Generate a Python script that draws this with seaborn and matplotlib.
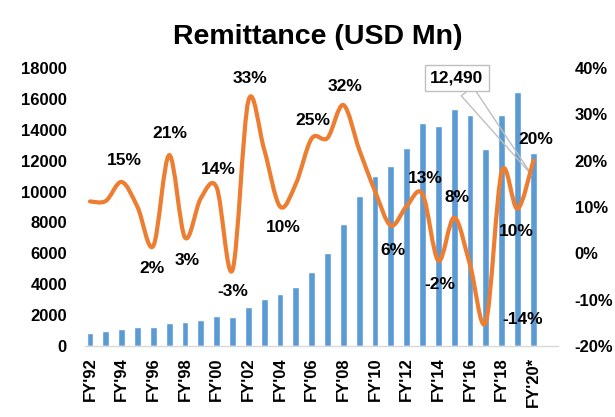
import matplotlib
matplotlib.use("Agg")
import matplotlib.pyplot as plt
from matplotlib.path import Path
from matplotlib.patches import PathPatch
import pandas as pd
import seaborn as sns

YEARS = [
    "FY'92", "FY'93", "FY'94", "FY'95", "FY'96", "FY'97", "FY'98", "FY'99",
    "FY'00", "FY'01", "FY'02", "FY'03", "FY'04", "FY'05", "FY'06", "FY'07",
    "FY'08", "FY'09", "FY'10", "FY'11", "FY'12", "FY'13", "FY'14", "FY'15",
    "FY'16", "FY'17", "FY'18", "FY'19", "FY'20*",
]
REMITTANCE = [
    848, 944, 1089, 1198, 1217, 1475, 1525, 1706, 1949, 1882, 2501, 3062,
    3372, 3848, 4802, 5998, 7915, 9689, 10987, 11650, 12843, 14461, 14228,
    15317, 14931, 12769, 14982, 16420, 12490,
]
GROWTH = [
    11.2, 11.3, 15.4, 10.0, 1.6, 21.2, 3.4, 11.9, 14.2, -3.6, 32.9, 22.4,
    10.1, 15.0, 24.8, 24.9, 32.0, 22.4, 13.4, 6.0, 10.2, 12.8, -1.6, 7.7,
    -2.5, -14.8, 17.6, 9.6, 20.0,
]
# (year index, label text, x offset px, y offset px; negative y = above)
GROWTH_LABELS = [
    (2, "15%", 3, -21), (4, "2%", -1, 23), (5, "21%", 1, -22), (6, "3%", 2, 23),
    (8, "14%", 2, -18), (9, "-3%", 0, 22), (10, "33%", 2, -22), (12, "10%", 3, 21),
    (14, "25%", 1, -18), (16, "32%", 2, -19), (19, "6%", 2, 25), (21, "13%", 3, -16),
    (22, "-2%", 2, 24), (23, "8%", 3, -20), (25, "-14%", 37, -2), (27, "10%", -1, 23),
    (28, "20%", 2, -21),
]
CALLOUT_TEXT = "12,490"

BAR_COLOR = "#5B9BD5"
LINE_COLOR = "#ED7D31"


def smooth_path(xs, ys):
    # Excel-like smoothed line: cubic bezier through each point
    n = len(xs)
    verts = [(xs[0], ys[0])]
    codes = [Path.MOVETO]
    for i in range(n - 1):
        a = i - 1 if i > 0 else i
        d = i + 2 if i + 2 < n else i + 1
        c1 = (xs[i] + (xs[i + 1] - xs[a]) / 6, ys[i] + (ys[i + 1] - ys[a]) / 6)
        c2 = (xs[i + 1] - (xs[d] - xs[i]) / 6, ys[i + 1] - (ys[d] - ys[i]) / 6)
        verts += [c1, c2, (xs[i + 1], ys[i + 1])]
        codes += [Path.CURVE4] * 3
    return Path(verts, codes)


def main():
    sns.set_theme(style="white")
    plt.rcParams["font.family"] = ["Liberation Sans", "DejaVu Sans"]
    plt.rcParams["font.weight"] = "bold"
    for key in ["text.color", "axes.labelcolor", "xtick.color", "ytick.color"]:
        plt.rcParams[key] = "black"

    df = pd.DataFrame({"year": YEARS, "remit": REMITTANCE, "growth": GROWTH})

    fig = plt.figure(figsize=(6.15, 4.17), dpi=100)
    ax = fig.add_axes([0.1382, 0.1703, 0.769, 0.6667])

    sns.barplot(data=df, x="year", y="remit", color=BAR_COLOR, width=0.43,
                saturation=1, ax=ax)
    ax.set_ylim(0, 18000)
    ax.set_yticks(range(0, 18001, 2000))
    ax.set_xlim(-0.316, 29.55)
    ax.set_xticks(range(0, len(YEARS), 2))
    ax.set_xticklabels(YEARS[::2], rotation=90, fontsize=12, fontweight="bold")
    ax.set_xlabel("")
    ax.set_ylabel("")
    ax.tick_params(axis="y", labelsize=12, pad=13, length=0)
    ax.tick_params(axis="x", pad=8, length=0)
    for lab in ax.get_yticklabels():
        lab.set_fontweight("bold")
    for side in ["top", "left", "right"]:
        ax.spines[side].set_visible(False)
    ax.spines["bottom"].set_color("#D9D9D9")
    ax.spines["bottom"].set_linewidth(1)

    ax2 = ax.twinx()
    ax2.set_ylim(-20, 40)
    ax2.set_yticks(range(-20, 41, 10))
    ax2.set_yticklabels([f"{v}%" for v in range(-20, 41, 10)], fontsize=12,
                        fontweight="bold")
    ax2.tick_params(axis="y", pad=12, length=0)
    for side in ["top", "left", "right", "bottom"]:
        ax2.spines[side].set_visible(False)

    xs = list(range(len(GROWTH)))
    ax2.add_patch(PathPatch(smooth_path(xs, GROWTH), fc="none", ec=LINE_COLOR,
                            lw=3, capstyle="round", joinstyle="round"))

    for idx, text, dx, dy in GROWTH_LABELS:
        ax2.annotate(text, xy=(idx, GROWTH[idx]), xytext=(dx * 0.72, -dy * 0.72),
                     textcoords="offset points", ha="center", va="center",
                     fontsize=12.5, fontweight="bold", color="black")

    ax.annotate(
        CALLOUT_TEXT, xy=(27.9, 11070), xytext=(23.17, 17346),
        ha="center", va="center", fontsize=12.5, fontweight="bold", color="black",
        bbox=dict(boxstyle="square,pad=0.3", fc="white", ec="#BFBFBF", lw=1),
        arrowprops=dict(arrowstyle="wedge,tail_width=0.85,shrink_factor=0.5",
                        fc="none", ec="#BFBFBF", lw=1, shrinkA=0, shrinkB=0),
        zorder=5,
    )

    fig.text(0.516, 0.912, "Remittance (USD Mn)", ha="center", va="center",
             fontsize=20.5, fontweight="bold", color="black")

    fig.savefig("out.png", dpi=100)


if __name__ == "__main__":
    main()
